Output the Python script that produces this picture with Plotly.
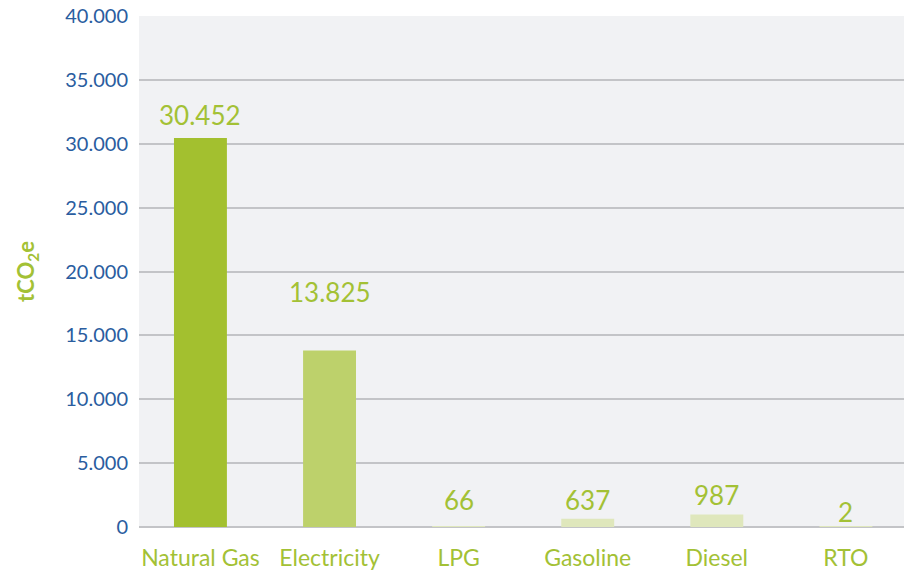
import plotly.graph_objects as go

categories = ["Natural Gas", "Electricity", "LPG", "Gasoline", "Diesel", "RTO"]
values = [30452, 13825, 66, 637, 987, 2]
value_labels = ["30.452", "13.825", "66", "637", "987", "2"]
y_tick_values = [0, 5000, 10000, 15000, 20000, 25000, 30000, 35000, 40000]
y_tick_labels = ["0", "5.000", "10.000", "15.000", "20.000", "25.000", "30.000", "35.000", "40.000"]

bar_colors = ["#a3c02f", "#bdd16b", "#dfe7bc", "#dfe7bc", "#dfe7bc", "#dfe7bc"]
label_shift = [23, 58, 26, 19, 19, 15]

GREEN = "#a3c135"
BLUE = "#2a5d9f"
FONT = "Lato, 'Noto Sans', sans-serif"

fig = go.Figure()
fig.add_trace(go.Bar(
    x=categories, y=values,
    marker=dict(color=bar_colors, line=dict(width=0)),
    width=0.41,
    hoverinfo="skip",
))

for cat, v, txt, sh in zip(categories, values, value_labels, label_shift):
    fig.add_annotation(x=cat, y=v, text=txt, showarrow=False,
                       yanchor="middle", yshift=sh,
                       font=dict(family=FONT, size=26, color=GREEN))

fig.update_layout(
    width=904, height=572,
    margin=dict(l=139, r=0, t=16, b=45, autoexpand=False),
    paper_bgcolor="white",
    plot_bgcolor="#f1f2f4",
    showlegend=False,
    font=dict(family=FONT),
)
fig.update_xaxes(
    range=[-0.476, 5.45],
    showgrid=False, zeroline=False, showline=False,
    ticks="outside", ticklen=10, tickcolor="rgba(0,0,0,0)",
    tickfont=dict(family=FONT, size=23, color=GREEN),
)
fig.update_yaxes(
    range=[0, 40000],
    tickvals=y_tick_values, ticktext=y_tick_labels,
    showgrid=True, gridcolor="#c3c4c7", gridwidth=2,
    zeroline=True, zerolinecolor="#c3c4c7", zerolinewidth=2,
    showline=False,
    ticks="outside", ticklen=6, tickcolor="rgba(0,0,0,0)",
    tickfont=dict(family=FONT, size=20, color=BLUE),
    title=dict(text="<b>tCO<sub>2</sub>e</b>", standoff=24,
               font=dict(family=FONT, size=22, color=GREEN)),
)

fig.write_html("out.html", config={"displayModeBar": False},
               post_script="document.body.style.margin='0';document.body.style.padding='0';")
